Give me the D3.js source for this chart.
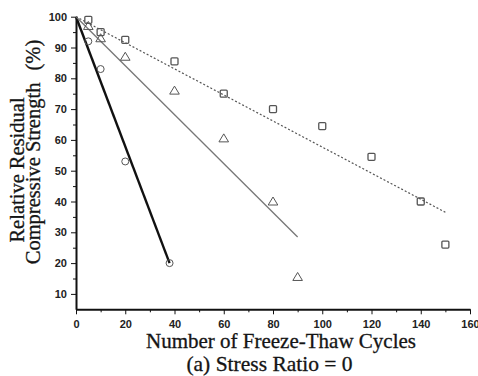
<!DOCTYPE html>
<meta charset="utf-8">
<style>
body { margin: 0; background: #fff; }
.axis path, .axis line { stroke: #111; }
.axis text { font: bold 11px "Liberation Sans", Arial, sans-serif; fill: #222; }
.label { font-family: "Liberation Serif", "Times New Roman", serif; fill: #151515; stroke: #151515; stroke-width: 0.3px; }
</style>
<svg width="478" height="376"></svg>
<script src="https://d3js.org/d3.v7.min.js"></script>
<script>

// cycles / relative residual strength (%)
var circleX = [5, 10, 20, 38];
var circleY = [92, 83, 53, 20];
var triX = [5, 10, 20, 40, 60, 80, 90];
var triY = [97, 93, 87, 76, 60.5, 40, 15.5];
var sqX = [5, 10, 20, 40, 60, 80, 100, 120, 140, 150];
var sqY = [99, 95, 92.5, 85.5, 75, 70, 64.5, 54.5, 40, 26];

// fitted lines (start, end)
var circleFit = [[0, 100], [38, 20]];
var triFit = [[0, 100], [90, 28.5]];
var sqFit = [[0, 100], [150, 36.5]];

var xTicks = [0, 20, 40, 60, 80, 100, 120, 140, 160];
var yTicks = [10, 20, 30, 40, 50, 60, 70, 80, 90, 100];

var svg = d3.select("svg");

var x = d3.scaleLinear().domain([0, 160]).range([76, 470]);
var y = d3.scaleLinear().domain([5, 100]).range([309.3, 16.7]);

// minor ticks first, then major
svg.append("g")
    .attr("class", "axis")
    .attr("transform", "translate(0,309.3)")
    .call(d3.axisBottom(x).tickValues(d3.range(10, 160, 20)).tickSize(3).tickFormat(""))
    .select(".domain").remove();
svg.append("g")
    .attr("class", "axis")
    .attr("transform", "translate(76,0)")
    .call(d3.axisLeft(y).tickValues(d3.range(15, 100, 10)).tickSize(3).tickFormat(""))
    .select(".domain").remove();

var xAxis = svg.append("g")
    .attr("class", "axis")
    .attr("transform", "translate(0,309.3)")
    .call(d3.axisBottom(x).tickValues(xTicks).tickSize(5).tickSizeOuter(0).tickPadding(6));
xAxis.select(".domain").attr("stroke-width", 2);

var yAxis = svg.append("g")
    .attr("class", "axis")
    .attr("transform", "translate(76,0)")
    .call(d3.axisLeft(y).tickValues(yTicks).tickSize(5).tickSizeOuter(0).tickPadding(4));
yAxis.select(".domain").attr("stroke-width", 2);

var line = d3.line().x(function(d) { return x(d[0]); }).y(function(d) { return y(d[1]); });

svg.append("path").datum(circleFit).attr("d", line)
    .attr("fill", "none").attr("stroke", "#111").attr("stroke-width", 2.4);
svg.append("path").datum(triFit).attr("d", line)
    .attr("fill", "none").attr("stroke", "#777").attr("stroke-width", 1.3);
svg.append("path").datum(sqFit).attr("d", line)
    .attr("fill", "none").attr("stroke", "#555").attr("stroke-width", 1.2)
    .attr("stroke-dasharray", "2,2");

var markStroke = "#555";

svg.append("g").selectAll("circle")
    .data(circleX)
    .enter().append("circle")
      .attr("cx", function(d) { return x(d); })
      .attr("cy", function(d, i) { return y(circleY[i]); })
      .attr("r", 3.5)
      .attr("fill", "none").attr("stroke", markStroke).attr("stroke-width", 1);

// open triangles, ~9px wide
svg.append("g").selectAll("path")
    .data(triX)
    .enter().append("path")
      .attr("d", "M0,-4.5L4.8,3.5L-4.8,3.5Z")
      .attr("transform", function(d, i) { return "translate(" + x(d) + "," + y(triY[i]) + ")"; })
      .attr("fill", "none").attr("stroke", markStroke).attr("stroke-width", 1);

svg.append("g").selectAll("rect")
    .data(sqX)
    .enter().append("rect")
      .attr("x", function(d) { return x(d) - 3.5; })
      .attr("y", function(d, i) { return y(sqY[i]) - 3.5; })
      .attr("width", 7).attr("height", 7).attr("rx", 1)
      .attr("fill", "none").attr("stroke", markStroke).attr("stroke-width", 1.3);

// axis titles
svg.append("text").attr("class", "label")
    .attr("transform", "translate(24,170) rotate(-90)")
    .attr("text-anchor", "middle")
    .style("font-size", "20.5px")
    .text("Relative Residual");
var yl2 = svg.append("text").attr("class", "label")
    .attr("transform", "translate(40,152) rotate(-90)")
    .attr("text-anchor", "middle")
    .style("font-size", "20.5px");
yl2.append("tspan").text("Compressive Strength ");
yl2.append("tspan").attr("dx", 7).text("(%)");

svg.append("text").attr("class", "label")
    .attr("x", 281).attr("y", 348)
    .attr("text-anchor", "middle")
    .style("font-size", "21px")
    .text("Number of Freeze-Thaw Cycles");
svg.append("text").attr("class", "label")
    .attr("x", 269.5).attr("y", 371)
    .attr("text-anchor", "middle")
    .style("font-size", "21.5px")
    .text("(a) Stress Ratio = 0");

</script>
